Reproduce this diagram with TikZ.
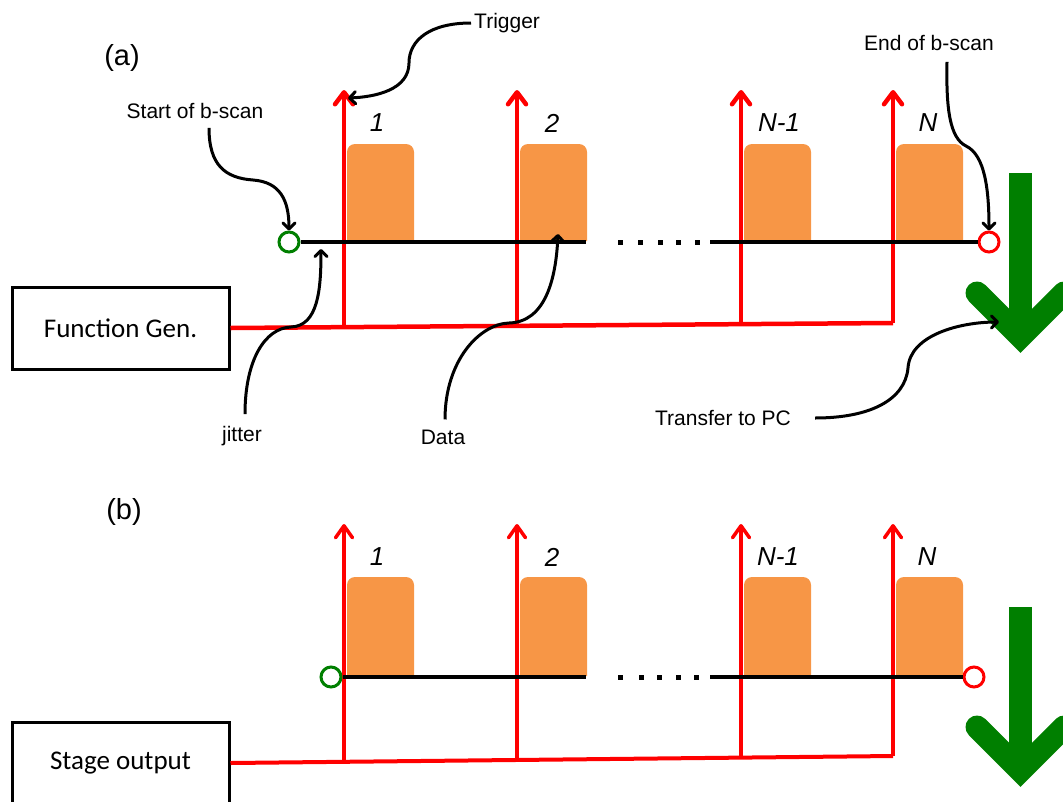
\documentclass[tikz,border=0pt]{standalone}
\usepackage{fontspec}
\setmainfont{Liberation Sans}
\newfontfamily\carlito{Carlito}
\usetikzlibrary{arrows.meta,calc}
\definecolor{pulseorange}{HTML}{F79646}
\definecolor{trigred}{HTML}{FF0000}
\definecolor{okgreen}{HTML}{007F00}

% data pulse with rounded top corners: left x, top y, bottom y
\newcommand\pulsebox[3]{%
  \fill[pulseorange] (#1,#3) -- (#1,#2+8)
    arc[start angle=180,end angle=270,radius=8] -- (#1+59,#2)
    arc[start angle=270,end angle=360,radius=8] -- (#1+67,#3) -- cycle;}

\begin{document}
\begin{tikzpicture}[x=1pt,y=-1pt,
  lbl/.style={inner sep=0pt, font=\fontsize{21}{25}\selectfont},
  tag/.style={inner sep=0pt, font=\fontsize{29}{34}\selectfont},
  num/.style={inner sep=0pt, font=\fontsize{26}{30}\selectfont\itshape},
  genbox/.style={draw, line width=3pt, minimum width=217pt, minimum height=82pt,
    inner sep=0pt, font=\carlito\fontsize{27}{32}\selectfont},
  trigA/.style={draw=trigred, line width=4.5pt, -{Straight Barb[length=12pt,width=18pt,round]}},
  trigB/.style={draw=trigred, line width=3.5pt, -{Straight Barb[length=12pt,width=17pt,round]}},
  feed/.style={draw=trigred, line width=4.5pt},
  scanline/.style={line width=4.5pt, black},
  startmark/.style={circle, draw=okgreen, fill=white, line width=3pt, minimum size=20pt, inner sep=0pt},
  endmark/.style={circle, draw=trigred, fill=white, line width=3pt, minimum size=20pt, inner sep=0pt},
  note/.style={line width=3pt, -{Straight Barb[length=6pt,width=12pt,round]}},
  bigarrow/.style={okgreen, line width=23pt}
]
\useasboundingbox (0,0) rectangle (1063,801);
\clip (0,0) rectangle (1063,801);

% ---------------- panel (a) ----------------
\node[tag] (tagA) at (122,58) {(a)};
\node[genbox] (fgA) at (120.5,328) {Function Gen.};

% trigger feed line and trigger arrows
\coordinate (feA) at (893,323);
\draw[feed] (fgA.east) -- (feA);
\coordinate (b1A) at (344,327.1);
\coordinate (b2A) at (517,325.8);
\coordinate (b3A) at (741,324.1);
\coordinate (t1A) at (344,90);
\coordinate (t2A) at (517,90);
\coordinate (t3A) at (741,90);
\coordinate (t4A) at (893,90);
\draw[trigA] (b1A) -- (t1A);
\draw[trigA] (b2A) -- (t2A);
\draw[trigA] (b3A) -- (t3A);
\draw[trigA] (feA) -- (t4A);

% data pulses
\pulsebox{347}{144}{241}
\pulsebox{520}{144}{241}
\pulsebox{744}{144}{241}
\pulsebox{896}{144}{241}

\node[num] (n1A) at (377,123) {1};
\node[num] (n2A) at (552,123) {2};
\node[num] (n3A) at (779,123) {N-1};
\node[num] (n4A) at (928,123) {N};

% scan line with start and end marks
\node[startmark] (sA) at (289,242) {};
\node[endmark] (eA) at (989,242) {};
\draw[scanline] (sA.east) -- (586,242);
\draw[scanline] (710,242) -- (eA.west);
\foreach \dx in {620,640,660,678,697}
  \fill (\dx-2.5,239.5) rectangle (\dx+2.5,244.5);

% transfer arrow
\draw[bigarrow] (1020.5,173) -- (1020.5,330);
\draw[bigarrow, line cap=round, line join=miter] (977,293) -- (1020.5,336.5) -- (1064,293);

% annotations
\node[lbl] (sb) at (195,111) {Start of b-scan};
\node[lbl, anchor=west] (trg) at (474,23) {Trigger};
\node[lbl] (eb) at (929,43) {End of b-scan};
\node[lbl] (jit) at (242,436) {jitter};
\node[lbl] (dat) at (443,437) {Data};
\node[lbl] (tpc) at (723,418) {Transfer to PC};

\coordinate (trgTip) at (348,98);
\coordinate (jitTip) at (321,249);
\coordinate (datTip) at (558,234);
\coordinate (tpcTip) at (999,322);

\draw[note] ($(trg.west)+(-3,0)$) .. controls (430,23) and (409,40) .. (409,63)
  .. controls (409,90) and (375,97) .. (trgTip);
\draw[note] ($(sb.south)+(14,9)$) .. controls (209,165) and (225,178) .. (253,180)
  .. controls (280,182) and (289,200) .. (sA.north);
\draw[note] ($(eb.south)+(18,11)$) .. controls (946,110) and (950,138) .. (966,146)
  .. controls (985,155) and (989,190) .. (eA.north);
\draw[note] ($(jit.north)+(3,-12)$) .. controls (245,360) and (265,328) .. (291,327)
  .. controls (318,326) and (321,290) .. (jitTip);
\draw[note] ($(dat.north)+(2,-10)$) .. controls (445,360) and (480,324) .. (509,323)
  .. controls (545,322) and (556,280) .. (datTip);
\draw[note] ($(tpc.east)+(24,0)$) .. controls (870,418) and (905,400) .. (908,368)
  .. controls (910,335) and (960,322) .. (tpcTip);

% ---------------- panel (b) ----------------
\node[tag] (tagB) at (124,512) {(b)};
\node[genbox] (soB) at (120.5,763) {Stage output};

\coordinate (feB) at (893,756);
\draw[feed, line width=4pt] (soB.east) -- (feB);
\coordinate (b1B) at (344,761);
\coordinate (b2B) at (517,759.4);
\coordinate (b3B) at (741,757.4);
\coordinate (t1B) at (344,524);
\coordinate (t2B) at (517,524);
\coordinate (t3B) at (741,524);
\coordinate (t4B) at (893,524);
\draw[trigB] (b1B) -- (t1B);
\draw[trigB] (b2B) -- (t2B);
\draw[trigB] (b3B) -- (t3B);
\draw[trigB] (feB) -- (t4B);

\pulsebox{347}{577}{676}
\pulsebox{520}{577}{676}
\pulsebox{744}{577}{676}
\pulsebox{896}{577}{676}

\node[num] (n1B) at (377,557) {1};
\node[num] (n2B) at (552,557) {2};
\node[num] (n3B) at (778,557) {N-1};
\node[num] (n4B) at (927,557) {N};

\node[startmark] (sB) at (331,677) {};
\node[endmark] (eB) at (974,677) {};
\draw[scanline] (sB.east) -- (586,677);
\draw[scanline] (710,677) -- (eB.west);
\foreach \dx in {620,641,659,678,696}
  \fill (\dx-2.5,674.5) rectangle (\dx+2.5,679.5);

\draw[bigarrow] (1020.5,607) -- (1020.5,764);
\draw[bigarrow, line cap=round, line join=miter] (977,727) -- (1020.5,770.5) -- (1064,727);
\end{tikzpicture}
\end{document}
